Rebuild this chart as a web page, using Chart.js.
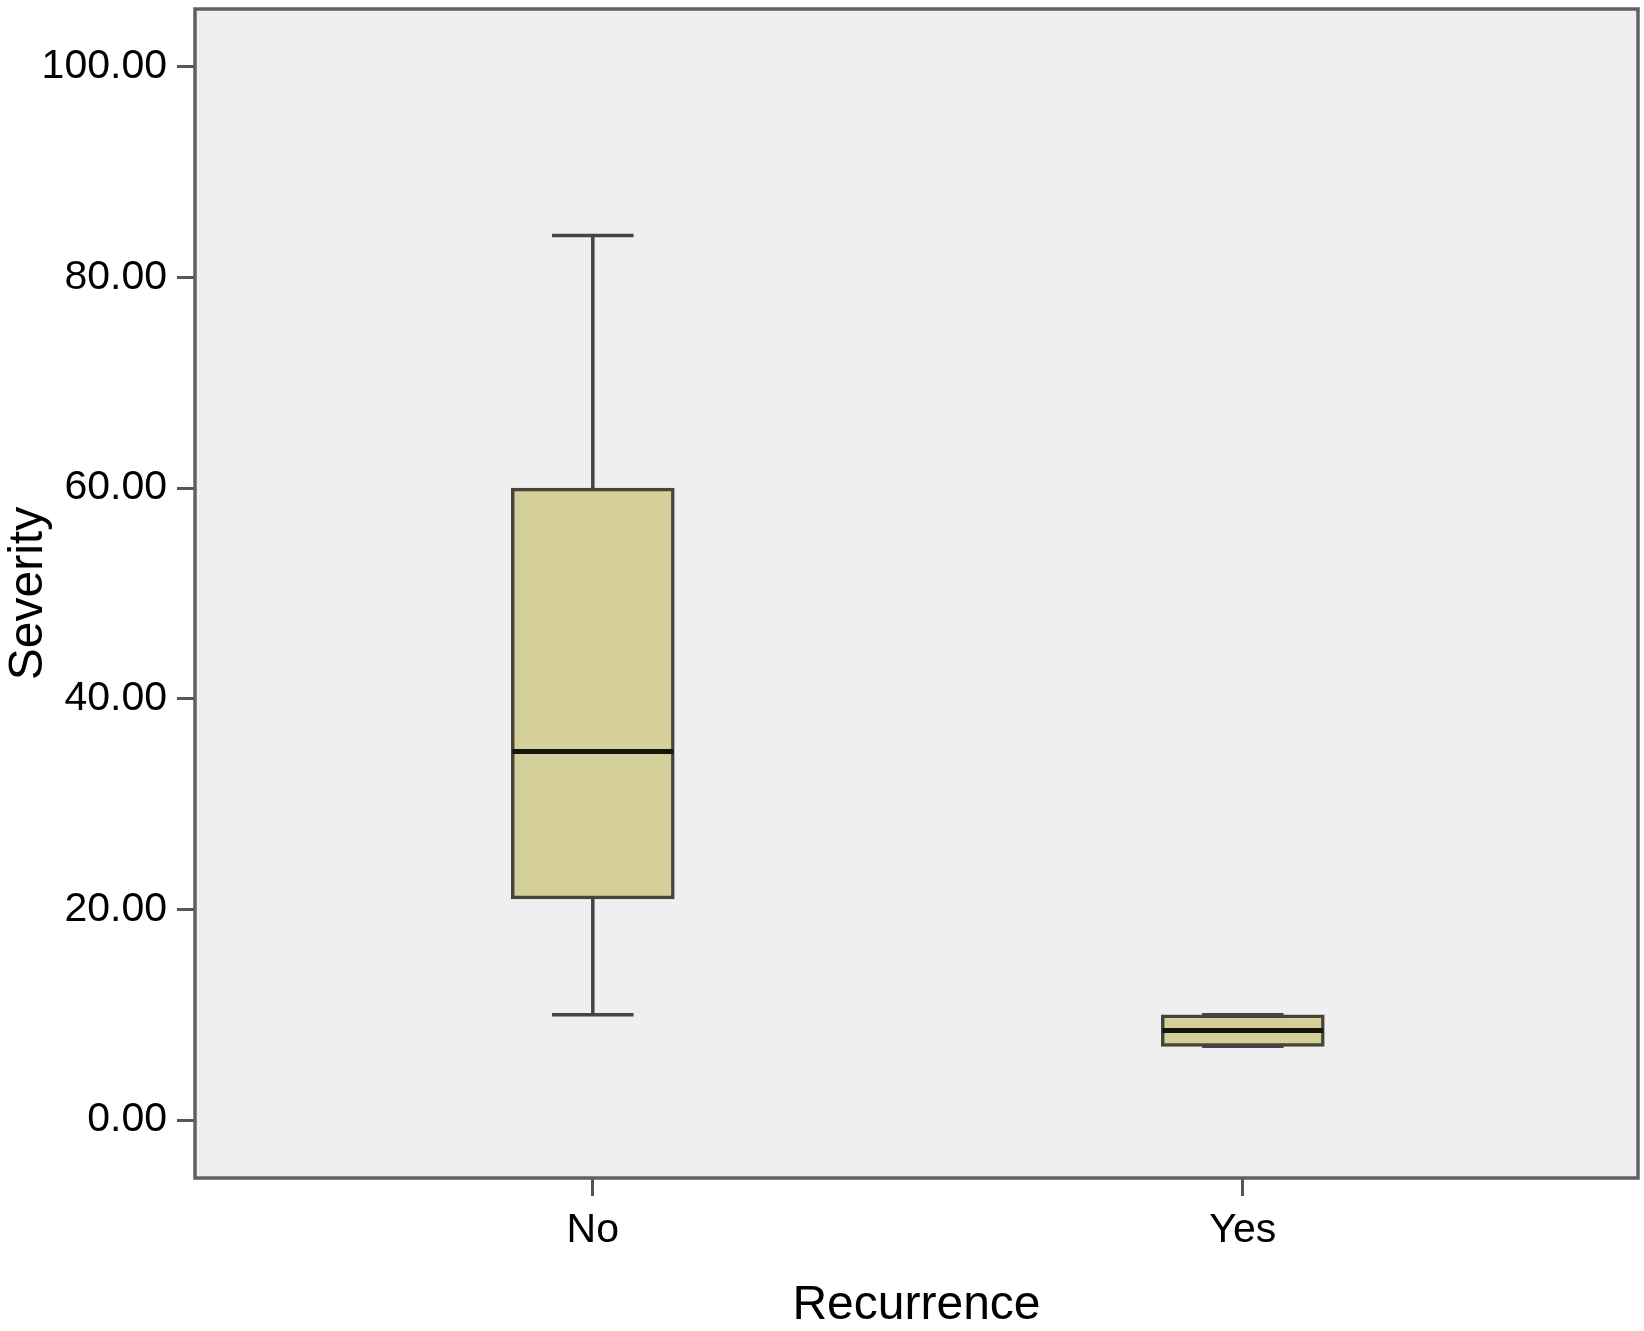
<!DOCTYPE html>
<html lang="en">
<head>
    <meta charset="UTF-8">
    <title>Severity by Recurrence</title>
    <script src="https://cdn.jsdelivr.net/npm/chart.js@4.4.1/dist/chart.umd.min.js"></script>
    <style>
        html, body { margin: 0; padding: 0; background: #fff; }
        #wrap { width: 1644px; height: 1331px; position: relative; }
    </style>
</head>
<body>
    <div id="wrap"><canvas id="boxChart"></canvas></div>

    <script>
        // box plot summary per group
        const categories = ['No', 'Yes'];
        const whiskerMin = [10, 7];
        const q1 = [21, 7];
        const median = [35, 8.5];
        const q3 = [60, 10];
        const whiskerMax = [84, 10];
        const yTicks = [0, 20, 40, 60, 80, 100];

        // background, whiskers, medians and frame drawn with the chart's scales
        const boxPlotPlugin = {
            id: 'boxPlot',
            beforeDraw(chart) {
                const a = chart.chartArea;
                const ctx = chart.ctx;
                ctx.save();
                ctx.fillStyle = '#efefef';
                ctx.fillRect(a.left, a.top, a.right - a.left, a.bottom - a.top);
                ctx.restore();
            },
            beforeDatasetsDraw(chart) {
                const ctx = chart.ctx;
                const x = chart.scales.x, y = chart.scales.y;
                ctx.save();
                ctx.strokeStyle = '#444';
                ctx.lineWidth = 3.5;
                categories.forEach((c, i) => {
                    const cx = x.getPixelForValue(i);
                    ctx.beginPath();
                    ctx.moveTo(cx, y.getPixelForValue(q3[i]));
                    ctx.lineTo(cx, y.getPixelForValue(whiskerMax[i]));
                    ctx.moveTo(cx, y.getPixelForValue(q1[i]));
                    ctx.lineTo(cx, y.getPixelForValue(whiskerMin[i]));
                    ctx.stroke();
                });
                ctx.restore();
            },
            afterDatasetsDraw(chart) {
                const ctx = chart.ctx;
                const x = chart.scales.x, y = chart.scales.y;
                const bars = chart.getDatasetMeta(0).data;
                ctx.save();
                categories.forEach((c, i) => {
                    const cx = x.getPixelForValue(i);
                    const half = bars[i].width * 0.25;
                    // caps
                    ctx.strokeStyle = '#444';
                    ctx.lineWidth = 3.5;
                    ctx.beginPath();
                    ctx.moveTo(cx - half, y.getPixelForValue(whiskerMax[i]));
                    ctx.lineTo(cx + half, y.getPixelForValue(whiskerMax[i]));
                    ctx.moveTo(cx - half, y.getPixelForValue(whiskerMin[i]));
                    ctx.lineTo(cx + half, y.getPixelForValue(whiskerMin[i]));
                    ctx.stroke();
                    // median
                    const bw = bars[i].width / 2;
                    ctx.strokeStyle = '#151510';
                    ctx.lineWidth = 5;
                    ctx.beginPath();
                    ctx.moveTo(cx - bw + 1, y.getPixelForValue(median[i]));
                    ctx.lineTo(cx + bw - 1, y.getPixelForValue(median[i]));
                    ctx.stroke();
                });
                // plot frame
                const a = chart.chartArea;
                ctx.strokeStyle = '#606060';
                ctx.lineWidth = 3.5;
                ctx.strokeRect(a.left, a.top, a.right - a.left, a.bottom - a.top);
                ctx.restore();
            }
        };

        const ctx = document.getElementById('boxChart').getContext('2d');
        new Chart(ctx, {
            type: 'bar',
            data: {
                datasets: [{
                    label: 'Severity',
                    data: categories.map((c, i) => ({ x: i, y: [q1[i], q3[i]] })),
                    backgroundColor: '#d5d09a',
                    borderColor: '#45453a',
                    borderWidth: 3.5,
                    borderSkipped: false,
                    barThickness: 163
                }]
            },
            options: {
                responsive: true,
                maintainAspectRatio: false,
                animation: false,
                layout: { padding: { top: 9, right: 6, left: 0, bottom: 0 } },
                plugins: {
                    legend: { display: false },
                    tooltip: { enabled: false }
                },
                scales: {
                    x: {
                        type: 'linear',
                        offset: false,
                        min: -0.612,
                        max: 1.608,
                        afterBuildTicks: (scale) => { scale.ticks = categories.map((c, i) => ({ value: i })); },
                        afterFit: (scale) => {
                            scale.height = 153;
                            scale.paddingLeft = 0;
                            scale.paddingRight = 0;
                        },
                        grid: { offset: false, drawOnChartArea: false, drawTicks: true, tickLength: 18, tickColor: '#555', tickWidth: 3 },
                        border: { display: false },
                        ticks: {
                            padding: 10,
                            color: '#000',
                            font: { family: 'Liberation Sans', size: 41 },
                            callback: (v) => categories[v]
                        },
                        title: {
                            display: true,
                            text: 'Recurrence',
                            color: '#000',
                            font: { family: 'Liberation Sans', size: 48 },
                            padding: { top: 0, bottom: -4 }
                        }
                    },
                    y: {
                        min: -5.5,
                        max: 105.5,
                        afterBuildTicks: (scale) => { scale.ticks = yTicks.map(v => ({ value: v })); },
                        afterFit: (scale) => {
                            scale.width = 195;
                            scale.paddingTop = 0;
                            scale.paddingBottom = 0;
                        },
                        grid: { drawOnChartArea: false, drawTicks: true, tickLength: 18, tickColor: '#555', tickWidth: 3 },
                        border: { display: false },
                        ticks: {
                            padding: 10,
                            color: '#000',
                            font: { family: 'Liberation Sans', size: 41 },
                            callback: (v) => v.toFixed(2)
                        },
                        title: {
                            display: true,
                            text: 'Severity',
                            color: '#000',
                            font: { family: 'Liberation Sans', size: 48 },
                            padding: { top: 0, bottom: 0 }
                        }
                    }
                }
            },
            plugins: [boxPlotPlugin]
        });
    </script>
</body>
</html>
